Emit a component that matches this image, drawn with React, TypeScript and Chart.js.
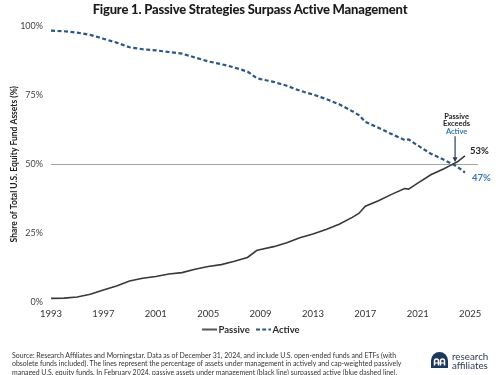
import React, { useEffect, useRef } from "react";
import { Chart, registerables } from "chart.js";

Chart.register(...registerables);

const years = [
  1993, 1994, 1995, 1996, 1997, 1998, 1999, 2000, 2001, 2002, 2003, 2004, 2005,
  2006, 2007, 2008, 2008.7, 2009, 2010, 2011, 2012, 2013, 2014, 2015, 2016,
  2016.5, 2017, 2018, 2019, 2020, 2020.3, 2021, 2022, 2023, 2023.5, 2024, 2024.6,
];
const passive = [
  1.5, 1.6, 2.0, 3.0, 4.5, 6.0, 7.8, 8.8, 9.4, 10.3, 10.8, 12.0, 13.0, 13.7,
  14.9, 16.3, 18.8, 19.2, 20.2, 21.6, 23.4, 24.8, 26.4, 28.3, 30.8, 32.2, 34.8,
  36.8, 39.1, 41.2, 41.0, 43.2, 46.2, 48.4, 49.6, 50.8, 53.0,
];
const active = [
  98.3, 98.1, 97.6, 96.8, 95.4, 94.0, 92.3, 91.6, 91.2, 90.6, 90.0, 88.6, 87.2,
  86.2, 85.0, 83.5, 81.2, 80.8, 79.8, 78.4, 76.6, 75.2, 73.6, 71.7, 69.2, 67.8,
  65.3, 63.2, 60.9, 58.8, 59.0, 56.8, 53.8, 51.6, 50.4, 49.2, 47.0,
];
const xTicks = [1993, 1997, 2001, 2005, 2009, 2013, 2017, 2021, 2025];
const yTicks = [0, 25, 50, 75, 100];
const seriesNames = ["Passive", "Active"];
const endLabels = ["53%", "47%"];
const calloutLines = ["Passive", "Exceeds", "Active"];

const PASSIVE_COLOR = "#383838";
const ACTIVE_COLOR = "#2c5683";
const ACTIVE_TEXT = "#3a78b4";
const FONT = "Lato, 'Open Sans', sans-serif";

export default function App() {
  const ref = useRef<HTMLCanvasElement>(null);

  useEffect(() => {
    const canvas = ref.current;
    if (!canvas) return;

    const annot = {
      id: "annot",
      beforeDatasetsDraw(chart: any) {
        const { ctx, chartArea, scales } = chart;
        const y = Math.round(scales.y.getPixelForValue(50)) + 0.5;
        ctx.save();
        ctx.strokeStyle = "#a3a3a3";
        ctx.lineWidth = 1;
        ctx.beginPath();
        ctx.moveTo(chartArea.left, y);
        ctx.lineTo(chartArea.right, y);
        ctx.stroke();
        ctx.restore();
      },
      afterDatasetsDraw(chart: any) {
        const { ctx, scales } = chart;
        const xs = scales.x;
        const ys = scales.y;
        const last = years.length - 1;
        const ex = xs.getPixelForValue(years[last]);
        ctx.save();
        ctx.textBaseline = "middle";
        ctx.textAlign = "left";
        ctx.font = `bold 9.5px ${FONT}`;
        ctx.fillStyle = "#222";
        ctx.fillText(endLabels[0], ex + 5, ys.getPixelForValue(passive[last]) - 5);
        ctx.fillStyle = ACTIVE_TEXT;
        ctx.fillText(endLabels[1], ex + 7, ys.getPixelForValue(active[last]) + 5.5);

        // callout
        const cx = xs.getPixelForValue(2023.85);
        const cy = ys.getPixelForValue(50);
        ctx.textAlign = "center";
        ctx.font = `bold 7.5px ${FONT}`;
        ctx.fillStyle = "#222";
        ctx.fillText(calloutLines[0], cx + 1.5, cy - 48);
        ctx.fillText(calloutLines[1], cx + 1.5, cy - 40.5);
        ctx.fillStyle = ACTIVE_TEXT;
        ctx.fillText(calloutLines[2], cx + 1.5, cy - 32.5);
        ctx.strokeStyle = "#2d3f58";
        ctx.fillStyle = "#2d3f58";
        ctx.lineWidth = 1.2;
        ctx.beginPath();
        ctx.moveTo(cx, cy - 28);
        ctx.lineTo(cx, cy - 6);
        ctx.stroke();
        ctx.beginPath();
        ctx.moveTo(cx - 2.5, cy - 7);
        ctx.lineTo(cx + 2.5, cy - 7);
        ctx.lineTo(cx, cy - 2);
        ctx.closePath();
        ctx.fill();
        ctx.restore();
      },
      afterDraw(chart: any) {
        const { ctx } = chart;
        ctx.save();
        const ly = 329.5;
        ctx.lineWidth = 2;
        ctx.strokeStyle = "#555";
        ctx.beginPath();
        ctx.moveTo(202, ly);
        ctx.lineTo(217, ly);
        ctx.stroke();
        ctx.strokeStyle = ACTIVE_COLOR;
        ctx.setLineDash([4, 2.2]);
        ctx.beginPath();
        ctx.moveTo(256, ly);
        ctx.lineTo(271, ly);
        ctx.stroke();
        ctx.setLineDash([]);
        ctx.font = `bold 9.5px ${FONT}`;
        ctx.fillStyle = "#2a2a2a";
        ctx.textBaseline = "middle";
        ctx.textAlign = "left";
        ctx.fillText(seriesNames[0], 218.5, ly);
        ctx.fillText(seriesNames[1], 272.5, ly);
        ctx.restore();
      },
    };

    const chart = new Chart(canvas, {
      type: "line",
      data: {
        datasets: [
          {
            label: seriesNames[0],
            data: years.map((x, i) => ({ x, y: passive[i] })),
            borderColor: PASSIVE_COLOR,
            borderWidth: 1.6,
            pointRadius: 0,
            tension: 0,
          },
          {
            label: seriesNames[1],
            data: years.map((x, i) => ({ x, y: active[i] })),
            borderColor: ACTIVE_COLOR,
            borderWidth: 2.2,
            borderDash: [4, 2.5],
            pointRadius: 0,
            tension: 0,
          },
        ],
      },
      options: {
        responsive: false,
        animation: false,
        events: [],
        layout: { padding: { top: 26, right: 22, bottom: 54.5, left: 0 } },
        plugins: {
          legend: { display: false },
          tooltip: { enabled: false },
          title: { display: false },
        },
        scales: {
          x: {
            type: "linear",
            min: 1993,
            max: 2025.6,
            grid: { display: false, drawTicks: false },
            border: { display: false },
            afterBuildTicks: (s: any) => {
              s.ticks = xTicks.map((v) => ({ value: v }));
            },
            afterFit: (s: any) => {
              s.height = 18;
            },
            ticks: {
              padding: 6,
              color: "#333",
              autoSkip: false,
              maxRotation: 0,
              font: { family: FONT, size: 9.5 },
              callback: (v: any) => String(v),
            },
          },
          y: {
            min: 0,
            max: 100,
            grid: { display: false, drawTicks: false },
            border: { display: false },
            afterBuildTicks: (s: any) => {
              s.ticks = yTicks.map((v) => ({ value: v }));
            },
            afterFit: (s: any) => {
              s.width = 51;
            },
            ticks: {
              padding: 8,
              color: "#444",
              font: { family: FONT, size: 9 },
              callback: (v: any) => v + "%",
            },
            title: {
              display: true,
              text: "Share of Total U.S. Equity Fund Assets (%)",
              color: "#222",
              font: { family: FONT, size: 8.5, weight: "bold" },
              padding: { top: 9.5, bottom: 0 },
            },
          },
        },
      },
      plugins: [annot],
    } as any);

    return () => chart.destroy();
  }, []);

  return (
    <div
      style={{
        position: "fixed",
        left: 0,
        top: 0,
        width: 500,
        height: 375,
        background: "#fff",
        overflow: "hidden",
        fontFamily: FONT,
      }}
    >
      <canvas ref={ref} width={500} height={375} style={{ position: "absolute", left: 0, top: 0 }} />
      <div
        style={{
          position: "absolute",
          top: 0,
          left: 0,
          width: 500,
          textAlign: "center",
          fontWeight: 900,
          fontSize: 13,
          letterSpacing: "-0.2px",
          lineHeight: "18px",
          color: "#1b1b1b",
          whiteSpace: "nowrap",
        }}
      >
        Figure 1. Passive Strategies Surpass Active Management
      </div>
      <div
        style={{
          position: "absolute",
          top: 350.6,
          left: 12,
          fontSize: 6.95,
          lineHeight: "8.7px",
          color: "#333",
          whiteSpace: "nowrap",
        }}
      >
        Source: Research Affiliates and Morningstar. Data as of December 31, 2024, and include U.S. open-ended funds and ETFs (with
        <br />
        obsolete funds included). The lines represent the percentage of assets under management in actively and cap-weighted passively
        <br />
        managed U.S. equity funds. In February 2024, passive assets under management (black line) surpassed active (blue dashed line).
      </div>
      <div style={{ position: "absolute", left: 431, top: 352, width: 17, height: 16 }}>
        <svg width="17" height="16" viewBox="0 0 17 16">
          <path d="M0 16 L0 8.5 A8.5 8.5 0 0 1 17 8.5 L17 16 Z" fill="#1e3859" />
          <path d="M3.5 13.5 L3.5 9 A2 2 0 0 1 7.5 9 L7.5 13.5" stroke="#fff" strokeWidth="1.5" fill="none" />
          <path d="M9.5 13.5 L9.5 9 A2 2 0 0 1 13.5 9 L13.5 13.5" stroke="#fff" strokeWidth="1.5" fill="none" />
          <line x1="3.5" y1="11" x2="13.5" y2="11" stroke="#fff" strokeWidth="1.1" />
        </svg>
      </div>
      <div
        style={{
          position: "absolute",
          left: 452,
          top: 351.5,
          fontSize: 9.8,
          lineHeight: "9px",
          color: "#2d3b55",
          whiteSpace: "nowrap",
        }}
      >
        research
        <br />
        affiliates
      </div>
    </div>
  );
}
